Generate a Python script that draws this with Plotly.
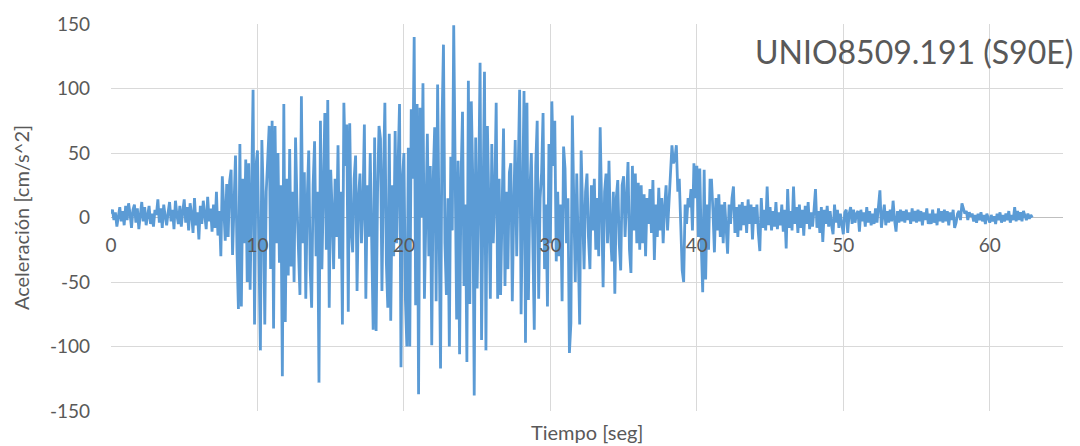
import numpy as np
import plotly.graph_objects as go

# Acceleration record UNIO8509.191, component S90E (cm/s^2), sampled every 0.1 s
dt = 0.1

accel_00_10 = [
    3, 6, -2, 4, -7, 2, 8, -3, 5, -6,
    9, -2, 11, 3, -8, 6, 10, -4, 7, -9,
    5, 12, -3, 8, -6, 4, 9, -5, 3, -7,
    6, 2, 14, -4, 7, -8, 10, 1, -6, 4,
    12, -3, 6, -9, 13, 2, -5, 9, -7, 5,
    14, -4, 8, -10, 11, 3, -12, 15, -6, 4,
    -17, 9, -5, 13, 4, -9, 16, -3, 7, -11,
    10, -8, 20, -14, 5, -30, 32, 8, -18, 26,
    -15, 28, 37, -29, 18, 48, -25, -71, 57, -69,
    30, -20, 45, -50, 42, -56, 20, 99, -83, 40,
]

accel_10_20 = [
    52, -30, -103, 60, 15, -83, 20, 45, 71, -40,
    75, -86, 71, -20, 50, -35, 25, -123, 88, -81,
    30, -45, 53, -38, 20, -50, 62, 10, -25, -60,
    94, -20, 35, -63, 15, 52, -40, -70, 25, 59,
    -30, 20, -128, 75, -40, 10, 81, -25, 91, -70,
    37, 5, -40, 30, -15, 56, -32, 20, -83, 89,
    40, 72, -73, 73, -10, -27, 30, 48, -57, 15,
    34, -20, 10, 72, -63, 25, -15, 50, -30, -87,
    62, -88, 20, 71, 61, -57, 30, 89, -35, -70,
    65, -80, 25, -30, 67, -20, 40, 88, -116, 30,
]

accel_20_30 = [
    50, -63, -100, 54, -100, 84, 30, 140, -68, 88,
    -137, 85, 0, 104, -63, 20, 65, -30, 40, -99,
    30, 70, -65, 103, -40, -117, 72, 134, -20, -60,
    15, -100, 47, -10, 149, 20, -79, 44, -106, 30,
    82, -53, 10, -112, 106, -67, 90, 30, -138, 62,
    -55, 20, 120, -95, 40, 113, -103, 71, 10, -63,
    57, -20, 15, 89, -63, 30, -60, 20, 69, -53,
    20, -40, 35, 42, -65, 10, 60, -30, 45, 99,
    -75, 30, 98, -97, 89, -64, 20, 50, -30, -87,
    40, 75, -63, 15, 35, 81, -40, 10, -69, 57,
]

accel_30_40 = [
    -20, 90, 40, 75, -34, 20, -30, 10, -65, 55,
    38, -20, 15, -105, -82, 79, 10, -50, 34, -15,
    -83, 52, 10, -40, 20, 34, -15, -40, 25, -10,
    30, -25, 15, -30, 70, 5, -54, 20, 34, -20,
    44, -10, -34, 20, -59, 15, 29, -20, -41, 25,
    32, -15, 10, 43, -25, -43, 40, -10, 34, -20,
    27, -25, 25, -20, 18, -30, 15, -5, 22, -12,
    29, -33, 10, -15, 23, -10, 15, -20, 8, 25,
    -10, 15, 30, 56, 42, 45, 56, 20, 30, -10,
    -41, -50, 10, -5, 15, 8, 22, -10, 42, 15,
]

accel_40_50 = [
    40, -15, 38, -20, -58, 37, -48, 10, -25, 29,
    29, 5, -27, 15, -10, 18, -15, 10, -20, 12,
    -8, -28, 10, -5, 15, 24, -12, 8, -15, 10,
    -10, 12, -6, 9, -12, 14, -5, 10, -17, 8,
    -5, 10, -12, -26, 15, -8, 6, -10, 24, -6,
    8, -10, 5, -7, 12, -9, 4, -6, 10, -11,
    6, -24, 22, -8, 5, -10, 24, -5, 8, -12,
    10, -8, 6, -14, 9, -5, 12, -9, 4, -7,
    6, 22, -8, 5, -12, 8, -19, 6, -5, 9,
    -7, 5, -6, -13, 10, -4, 6, -8, 3, -5,
]

accel_50_60 = [
    -13, 4, 6, -12, 3, 8, -5, 6, -4, 3,
    5, -11, 6, -3, 4, -7, 8, -4, 5, -6,
    3, -5, 7, -4, 6, 21, -8, 4, 10, -6,
    5, -4, 6, -3, 13, -2, -11, 5, -4, 6,
    -3, 5, -4, 6, -2, 4, -5, 7, -3, 5,
    -4, 6, -3, 5, -6, 4, -2, 7, -5, 3,
    -5, 6, -4, 3, -6, 7, -3, 5, -4, 6,
    -3, 5, -6, 4, -2, 6, -8, -4, 3, 5,
    -2, 11, 6, 3, 5, -2, 4, 1, 3, -3,
    2, -4, 3, -2, 4, -3, 2, -5, 3, -1,
]

accel_60_63 = [
    -4, 2, -3, 1, -5, 3, -2, 4, -4, 2,
    -3, 3, -2, 5, -4, 2, -2, 8, -3, 5,
    -2, 4, -3, 5, 1, -2, 3, -1, 2, 0,
]

acceleration = (accel_00_10 + accel_10_20 + accel_20_30 + accel_30_40
                + accel_40_50 + accel_50_60 + accel_60_63)
time = np.arange(len(acceleration)) * dt

x_ticks = [0, 10, 20, 30, 40, 50, 60]
y_ticks = [-150, -100, -50, 0, 50, 100, 150]

FONT = "Lato"
TEXT = "#595959"
GRID = "#d9d9d9"

fig = go.Figure(
    go.Scatter(
        x=time,
        y=acceleration,
        mode="lines",
        line=dict(color="#5b9bd5", width=2.8),
        hoverinfo="skip",
    )
)

fig.update_layout(
    width=1080,
    height=446,
    margin=dict(l=111, r=17, t=19, b=35),
    paper_bgcolor="white",
    plot_bgcolor="white",
    showlegend=False,
    font=dict(family=FONT, color=TEXT, size=19),
    xaxis=dict(
        range=[0, 65],
        tickvals=x_ticks,
        ticktext=[str(v) for v in x_ticks],
        showgrid=True,
        gridcolor=GRID,
        gridwidth=1,
        zeroline=False,
        showline=False,
        anchor="free",
        position=0.5,
        ticks="",
        ticklabelstandoff=14,
        tickfont=dict(family=FONT, size=19, color=TEXT),
    ),
    yaxis=dict(
        range=[-150, 150],
        tickvals=y_ticks,
        ticktext=[str(v) for v in y_ticks],
        showgrid=True,
        gridcolor=GRID,
        gridwidth=1,
        zeroline=True,
        zerolinecolor="#bfbfbf",
        zerolinewidth=1,
        showline=False,
        ticks="",
        ticklabelstandoff=20,
        tickfont=dict(family=FONT, size=19, color=TEXT),
        title=dict(text="Aceleración [cm/s^2]", font=dict(family=FONT, size=20, color=TEXT), standoff=14),
    ),
    annotations=[
        dict(
            text="Tiempo [seg]",
            xref="paper", yref="paper",
            x=0.5, y=-0.054,
            xanchor="center", yanchor="middle",
            showarrow=False,
            font=dict(family=FONT, size=20, color=TEXT),
        ),
        dict(
            text="UNIO8509.191 (S90E)",
            xref="paper", yref="paper",
            x=1.0126, y=0.93,
            xanchor="right", yanchor="middle",
            showarrow=False,
            font=dict(family=FONT, size=32, color=TEXT),
        ),
    ],
)

fig.write_html("out.html")
